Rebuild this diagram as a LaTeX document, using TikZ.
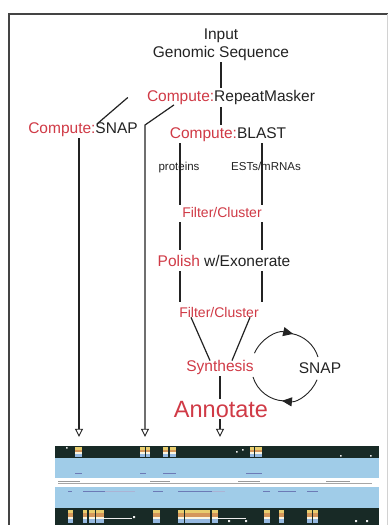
\documentclass[tikz,border=0pt]{standalone}
\usepackage{fontspec}
\setmainfont{Liberation Sans}
\definecolor{compred}{RGB}{208, 58, 70}
\definecolor{inktext}{RGB}{35, 35, 35}
\definecolor{trackdark}{RGB}{24, 42, 38}
\definecolor{trackblue}{RGB}{160, 204, 232}
\definecolor{exonyel}{RGB}{232, 205, 110}
\definecolor{exonorg}{RGB}{212, 150, 90}
\definecolor{exonblu}{RGB}{150, 185, 225}
\definecolor{featblue}{RGB}{45, 65, 150}
\usetikzlibrary{arrows.meta, calc}

% one gene block in the browser tracks: x, top, width, height
\newcommand{\exonblk}[4]{%
  \fill[exonyel] (#1,#2) rectangle ++(#3,#4/4);
  \fill[exonorg] (#1,#2+#4/4) rectangle ++(#3,#4/4);
  \fill[white!80!exonyel] (#1,#2+#4/2) rectangle ++(#3,#4/6);
  \fill[exonblu] (#1,#2+2*#4/3) rectangle ++(#3,#4/3);
}

\tikzset{
  lbl/.style={font=\fontsize{15.5}{17}\selectfont, text=inktext, inner sep=2pt, anchor=base},
  small/.style={font=\fontsize{11.5}{13}\selectfont, text=inktext, inner sep=2pt, anchor=base},
  filt/.style={font=\fontsize{14}{16}\selectfont, text=compred, inner sep=2pt, anchor=base},
  link/.style={line width=1.2pt, inktext},
  colink/.style={link, shorten <=3pt, shorten >=3pt},
  down/.style={link, -{Triangle[open, length=8pt, width=8pt, line width=0.9pt]}},
  cyc/.style={line width=0.9pt, inktext},
}

\begin{document}
\begin{tikzpicture}[x=1pt, y=-1pt]
  \useasboundingbox (0,0) rectangle (388,525);
  \fill[white] (0,0) rectangle (388,525);

  % Frame
  \draw[line width=1.3pt, inktext!85] (9,525) -- (9,14) -- (388,14);
  \draw[gray!35] (387,14) -- (387,525);

  % Pipeline steps
  \node[lbl] (inp) at (221,39) {Input};
  \node[lbl] (gen) at (221,57) {Genomic Sequence};
  \node[lbl] (rm) at (231,101.5) {\textcolor{compred}{Compute:}RepeatMasker};
  \node[lbl] (snapc) at (83,133) {\textcolor{compred}{Compute:}SNAP};
  \node[lbl] (blast) at (228,138) {\textcolor{compred}{Compute:}BLAST};
  \node[small] (prot) at (179,170) {proteins};
  \node[small] (ests) at (266,170) {ESTs/mRNAs};
  \node[filt] (filt1) at (222,217) {Filter/Cluster};
  \node[lbl] (pol) at (224,266) {\textcolor{compred}{Polish} w/Exonerate};
  \node[filt] (filt2) at (219,317) {Filter/Cluster};
  \node[lbl, text=compred] (synth) at (220,371) {Synthesis};
  \node[lbl] (snapl) at (320,373) {SNAP};
  \node[lbl, font=\fontsize{23.5}{26}\selectfont, text=compred] (ann) at (221,417) {Annotate};

  % Evidence columns
  \coordinate (lcol) at (180,0);
  \coordinate (rcol) at (262,0);
  \coordinate (loop) at (285.5,367);

  % Browser snapshot
  \node[minimum width=324pt, minimum height=79pt, inner sep=0pt] (browser) at (217,485.5) {};
  \fill[trackdark] (browser.north west) rectangle (379,458);
  \fill[trackblue] (55,458) rectangle (379,478);
  \fill[white] (55,478) rectangle (379,487);
  \fill[trackblue] (55,487) rectangle (379,508);
  \fill[trackdark] (55,508) rectangle (browser.south east);
  \draw[gray!70, line width=0.4pt] (58,483) -- (372,483);
  \draw[gray!80, line width=1pt] (58,481) -- (80,481) (150,481) -- (170,481) (238,481) -- (260,481) (326,481) -- (350,481);
  \draw[featblue!70, line width=1pt] (75,473) -- (82,473) (140,473) -- (146,473) (163,473) -- (176,473) (246,473) -- (262,473);
  \draw[featblue!70, line width=1pt] (68,491) -- (72,491) (83,491) -- (105,491) (153,491) -- (163,491) (178,491) -- (212,491) (263,491) -- (270,491) (278,491) -- (296,491) (307,491) -- (318,491);
  \draw[featblue!40, line width=0.5pt] (105,491) -- (135,491) (212,491) -- (225,491);
  \draw[white!85!gray, line width=0.5pt] (96,518) -- (132,518) (212,518) -- (246,518);
  \exonblk{75}{447}{7}{10}
  \exonblk{140}{447}{5}{10}
  \exonblk{146}{447}{4}{10}
  \exonblk{163}{447}{5}{10}
  \exonblk{170}{447}{6}{10}
  \exonblk{250}{447}{4}{10}
  \exonblk{255}{447}{7}{10}
  \exonblk{68}{510}{5}{13}
  \exonblk{83}{510}{4}{13}
  \exonblk{89}{510}{6}{13}
  \exonblk{96}{510}{8}{13}
  \exonblk{153}{510}{7}{13}
  \exonblk{178}{510}{6}{13}
  \exonblk{185}{510}{25}{13}
  \exonblk{212}{510}{6}{13}
  \exonblk{264}{510}{6}{13}
  \exonblk{279}{510}{5}{13}
  \exonblk{307}{510}{5}{13}
  \exonblk{313}{510}{5}{13}
  \fill[white!85!gray] (66,447) rectangle ++(1.5,1.5) (236,451) rectangle ++(1.5,1.5) (242,449) rectangle ++(1.5,1.5) (340,455) rectangle ++(1.5,1.5) (370,455) rectangle ++(1.5,1.5) (133,516) rectangle ++(2,2) (228,520) rectangle ++(2,2) (245,520) rectangle ++(2,2) (355,520) rectangle ++(2,2) (366,520) rectangle ++(2,2);

  % Connectors
  \draw[link] (gen.south) -- (gen.south |- rm.north);
  \draw[link] (gen.south |- rm.south) -- (gen.south |- blast.north);
  \draw[link] ([xshift=14pt, yshift=-4pt]snapc.north) -- ([xshift=-17pt]rm.west);
  \draw[down, shorten >=9pt] ([xshift=-4pt]snapc.south) -- ([xshift=-4pt]snapc.south |- browser.north);
  \draw[down, shorten >=9pt] ([xshift=-57pt, yshift=2pt]rm.south) -- (145,125) -- (145,125 |- browser.north);
  \draw[link] (lcol |- blast.south) -- (lcol |- filt1.north);
  \draw[link] (rcol |- blast.south) -- (rcol |- filt1.north);
  \draw[colink] (lcol |- filt1.south) -- (lcol |- pol.north);
  \draw[colink] (rcol |- filt1.south) -- (rcol |- pol.north);
  \draw[colink] (lcol |- pol.south) -- (lcol |- filt2.north);
  \draw[colink] (rcol |- pol.south) -- (rcol |- filt2.north);
  \draw[link] ([xshift=-28pt, yshift=2pt]filt2.south) -- ([xshift=-10pt, yshift=-3pt]synth.north);
  \draw[link] ([xshift=31pt, yshift=2pt]filt2.south) -- ([xshift=12pt, yshift=-3pt]synth.north);
  \draw[link] (synth.south) -- (synth.south |- ann.north);
  \draw[down, shorten >=9pt] (synth.south |- ann.south) -- (synth.south |- browser.north);

  % SNAP training loop
  \draw[cyc, -{Triangle[length=10pt, width=9pt]}] ($(loop)+(-156:34)$) arc[start angle=-156, end angle=-77, radius=34];
  \draw[cyc] ($(loop)+(-80:34)$) arc[start angle=-80, end angle=-17, radius=34];
  \draw[cyc, -{Triangle[length=10pt, width=9pt]}] ($(loop)+(22:34)$) arc[start angle=22, end angle=96, radius=34];
  \draw[cyc] ($(loop)+(93:34)$) arc[start angle=93, end angle=163, radius=34];
\end{tikzpicture}
\end{document}
